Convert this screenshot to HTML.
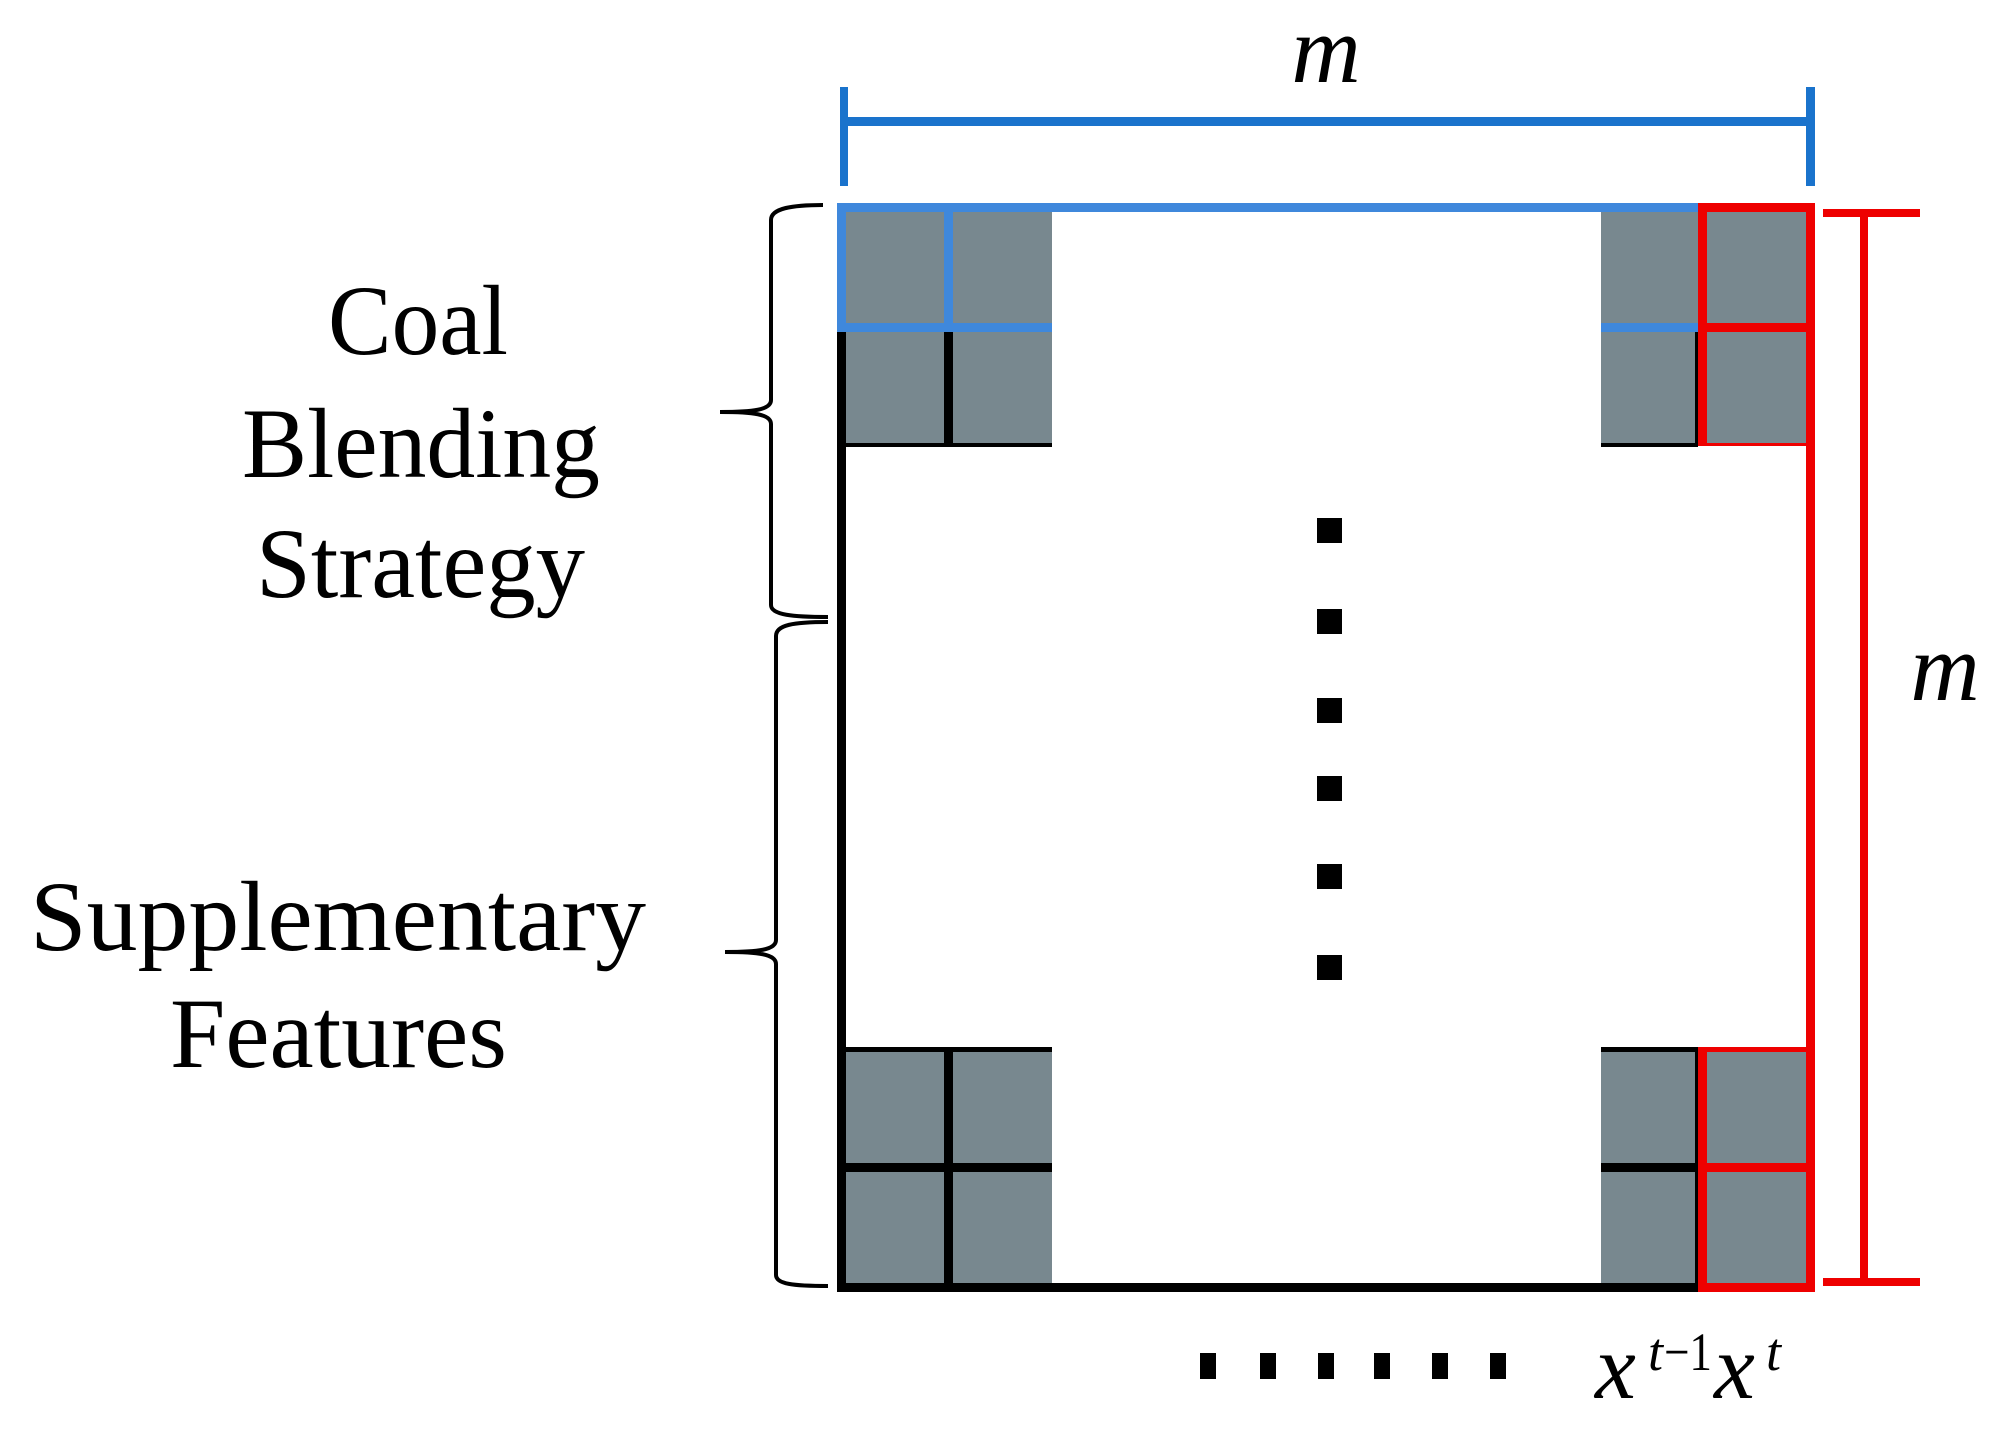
<!DOCTYPE html>
<html><head><meta charset="utf-8"><style>html,body{margin:0;padding:0;background:#fff}svg{display:block}</style></head>
<body>
<svg width="1994" height="1430" viewBox="0 0 1994 1430" xmlns="http://www.w3.org/2000/svg">
<rect width="1994" height="1430" fill="#fff"/>
<!-- top measure -->
<rect x="840" y="87" width="8" height="99" fill="#1a73cc"/>
<rect x="1806" y="87" width="9" height="99" fill="#1a73cc"/>
<rect x="840" y="117" width="975" height="9" fill="#1a73cc"/>
<text x="1326" y="82" font-family="Liberation Serif, serif" font-style="italic" font-size="96" text-anchor="middle">m</text>
<!-- cells -->
<g fill="#78888f">
<rect x="846" y="212" width="98" height="111"/><rect x="953" y="212" width="99" height="111"/>
<rect x="846" y="332" width="98" height="111"/><rect x="953" y="332" width="99" height="111"/>
<rect x="1601" y="212" width="97" height="111"/><rect x="1707" y="212" width="99" height="111"/>
<rect x="1601" y="332" width="97" height="111"/><rect x="1707" y="332" width="99" height="111"/>
<rect x="846" y="1052" width="98" height="111"/><rect x="953" y="1052" width="99" height="111"/>
<rect x="846" y="1172" width="98" height="111"/><rect x="953" y="1172" width="99" height="111"/>
<rect x="1601" y="1052" width="97" height="111"/><rect x="1707" y="1052" width="99" height="111"/>
<rect x="1601" y="1172" width="97" height="111"/><rect x="1707" y="1172" width="99" height="111"/>
</g>
<!-- black lines -->
<g fill="#000">
<rect x="837" y="332" width="9" height="960"/>
<rect x="944" y="332" width="9" height="111"/>
<rect x="846" y="443" width="206" height="4"/>
<rect x="1601" y="443" width="97" height="4"/>
<rect x="1695" y="332" width="3" height="111"/>
<rect x="837" y="1047" width="215" height="5"/>
<rect x="944" y="1047" width="9" height="245"/>
<rect x="837" y="1163" width="215" height="9"/>
<rect x="837" y="1283" width="861" height="9"/>
<rect x="1601" y="1047" width="97" height="5"/>
<rect x="1601" y="1163" width="97" height="9"/>
<rect x="1695" y="1047" width="3" height="245"/>
</g>
<!-- blue top-left -->
<g fill="#3f88dc">
<rect x="837" y="203" width="861" height="9"/>
<rect x="837" y="203" width="9" height="129"/>
<rect x="944" y="203" width="9" height="129"/>
<rect x="837" y="323" width="215" height="9"/>
<rect x="1601" y="323" width="97" height="9"/>
</g>
<!-- red column -->
<g fill="#ee0000">
<rect x="1698" y="203" width="117" height="9"/>
<rect x="1698" y="203" width="9" height="243"/>
<rect x="1806" y="203" width="9" height="1089"/>
<rect x="1698" y="323" width="117" height="9"/>
<rect x="1698" y="443" width="117" height="3"/>
<rect x="1698" y="1047" width="117" height="5"/>
<rect x="1698" y="1047" width="9" height="245"/>
<rect x="1698" y="1163" width="117" height="9"/>
<rect x="1698" y="1283" width="117" height="9"/>
<!-- right measure -->
<rect x="1823" y="209" width="97" height="8"/>
<rect x="1860" y="209" width="8" height="1075"/>
<rect x="1823" y="1278" width="97" height="8"/>
</g>
<text x="1945" y="700" font-family="Liberation Serif, serif" font-style="italic" font-size="96" text-anchor="middle">m</text>
<!-- vertical dots -->
<g fill="#000">
<rect x="1317" y="518" width="25" height="25"/>
<rect x="1317" y="609" width="25" height="25"/>
<rect x="1317" y="698" width="25" height="25"/>
<rect x="1317" y="776" width="25" height="25"/>
<rect x="1317" y="864" width="25" height="25"/>
<rect x="1317" y="955" width="25" height="25"/>
<!-- horizontal dots -->
<rect x="1200" y="1353" width="16" height="26"/>
<rect x="1260" y="1353" width="16" height="26"/>
<rect x="1318" y="1353" width="16" height="26"/>
<rect x="1374" y="1353" width="16" height="26"/>
<rect x="1432" y="1353" width="16" height="26"/>
<rect x="1490" y="1353" width="16" height="26"/>
</g>
<!-- x labels -->
<g font-family="Liberation Serif, serif" font-style="italic">
<text x="1595" y="1398" font-size="92">x</text>
<text x="1648" y="1370" font-size="54">t</text>
<text x="1664" y="1370" font-size="54" font-style="normal" textLength="48" lengthAdjust="spacingAndGlyphs">−1</text>
<text x="1714" y="1398" font-size="92">x</text>
<text x="1766" y="1370" font-size="54">t</text>
</g>
<!-- braces -->
<g fill="none" stroke="#000" stroke-width="4">
<path d="M823,205 C793,205 771,208 771,220 L771,400 C771,410 753,412 720,412 C753,412 771,414 771,424 L771,605 C771,615 793,617 828,617"/>
<path d="M828,622 C793,622 776,625 776,636 L776,940 C776,950 758,952 725,952 C758,952 776,954 776,964 L776,1275 C776,1284 793,1286 828,1286"/>
</g>
<!-- text -->
<g font-family="Liberation Serif, serif" font-size="100" fill="#000">
<text x="328" y="354" textLength="180" lengthAdjust="spacingAndGlyphs">Coal</text>
<text x="242" y="477" textLength="358" lengthAdjust="spacingAndGlyphs">Blending</text>
<text x="256" y="597" textLength="329" lengthAdjust="spacingAndGlyphs">Strategy</text>
<text x="30" y="950" textLength="616" lengthAdjust="spacingAndGlyphs">Supplementary</text>
<text x="170" y="1067" textLength="337" lengthAdjust="spacingAndGlyphs">Features</text>
</g>
</svg>
</body></html>
